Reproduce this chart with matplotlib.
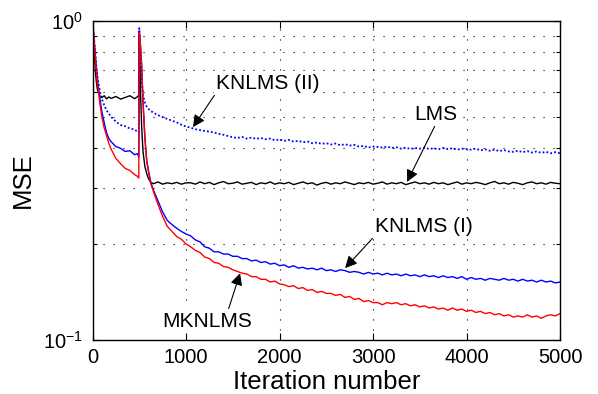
import numpy as np
import matplotlib
matplotlib.use("Agg")
import matplotlib.pyplot as plt
from matplotlib.ticker import NullFormatter

plt.rcParams['font.family'] = ['Liberation Sans', 'DejaVu Sans']
plt.rcParams['mathtext.fontset'] = 'custom'
plt.rcParams['mathtext.rm'] = 'Liberation Sans'

# iterations: dense head (0..1000) + tail every 50 up to 5000
iterHead = [0, 10, 20, 30, 40, 50, 60, 80, 100, 125, 150, 175, 200, 250, 300, 350,
            400, 450, 480, 495, 500, 505, 515, 525, 540, 560, 580, 600, 625, 650,
            700, 750, 800, 850, 900, 950, 1000]
iterTail = list(range(1050, 5001, 50))

mknlmsHead = [1.0, 0.92, 0.84, 0.77, 0.70, 0.65, 0.61, 0.55, 0.50, 0.462, 0.437, 0.413,
              0.396, 0.371, 0.357, 0.345, 0.340, 0.330, 0.326, 0.322,
              0.92, 0.90, 0.82, 0.73, 0.56, 0.43, 0.362, 0.335,
              0.308, 0.293, 0.266, 0.244, 0.227, 0.219, 0.211, 0.207, 0.200]
mknlmsTail = [0.196, 0.191, 0.188, 0.182, 0.180, 0.175, 0.174, 0.170, 0.169, 0.166,
              0.164, 0.162, 0.161, 0.158, 0.158, 0.155, 0.155, 0.152, 0.153, 0.150,
              0.149, 0.147, 0.148, 0.145, 0.146, 0.143, 0.144, 0.141, 0.142, 0.140,
              0.140, 0.138, 0.139, 0.136, 0.137, 0.134, 0.135, 0.132, 0.133, 0.131,
              0.131, 0.129, 0.131, 0.130, 0.131, 0.129, 0.130, 0.128, 0.129, 0.127,
              0.128, 0.126, 0.127, 0.125, 0.126, 0.124, 0.126, 0.124, 0.125, 0.123,
              0.124, 0.122, 0.123, 0.121, 0.122, 0.120, 0.121, 0.119, 0.120, 0.118,
              0.119, 0.118, 0.120, 0.118, 0.119, 0.117, 0.119, 0.120, 0.119, 0.121]

knlms1Head = [1.0, 0.93, 0.85, 0.78, 0.72, 0.67, 0.63, 0.57, 0.52, 0.48, 0.447, 0.428,
              0.418, 0.404, 0.399, 0.390, 0.392, 0.381, 0.384, 0.375,
              0.93, 0.90, 0.82, 0.73, 0.56, 0.432, 0.366, 0.338,
              0.311, 0.296, 0.273, 0.252, 0.237, 0.230, 0.224, 0.219, 0.215]
knlms1Tail = [0.212, 0.206, 0.203, 0.196, 0.194, 0.189, 0.189, 0.186, 0.186, 0.183,
              0.183, 0.180, 0.180, 0.177, 0.178, 0.175, 0.176, 0.173, 0.174, 0.171,
              0.172, 0.169, 0.171, 0.168, 0.169, 0.167, 0.168, 0.166, 0.168, 0.165,
              0.166, 0.164, 0.166, 0.165, 0.163, 0.164, 0.163, 0.161, 0.163, 0.161,
              0.162, 0.160, 0.162, 0.160, 0.161, 0.159, 0.161, 0.159, 0.160, 0.158,
              0.160, 0.158, 0.159, 0.157, 0.159, 0.157, 0.158, 0.156, 0.158, 0.155,
              0.157, 0.155, 0.156, 0.154, 0.156, 0.155, 0.154, 0.156, 0.154, 0.155,
              0.153, 0.155, 0.153, 0.154, 0.152, 0.154, 0.152, 0.153, 0.151, 0.152]

lmsHead = [1.0, 0.88, 0.78, 0.70, 0.65, 0.615, 0.597, 0.582, 0.575, 0.583, 0.570, 0.578,
           0.572, 0.580, 0.569, 0.576, 0.583, 0.571, 0.579, 0.585,
           0.90, 0.78, 0.58, 0.47, 0.39, 0.35, 0.332, 0.320,
           0.312, 0.309, 0.313, 0.308, 0.311, 0.309, 0.312, 0.308, 0.311]
lmsTail = [0.311, 0.308, 0.313, 0.309, 0.312, 0.307, 0.311, 0.314, 0.309, 0.310,
           0.313, 0.308, 0.310, 0.312, 0.307, 0.311, 0.309, 0.313, 0.308, 0.311,
           0.309, 0.312, 0.307, 0.310, 0.313, 0.309, 0.311, 0.306, 0.310, 0.312,
           0.308, 0.311, 0.309, 0.313, 0.310, 0.307, 0.311, 0.309, 0.312, 0.308,
           0.310, 0.313, 0.308, 0.311, 0.309, 0.312, 0.307, 0.310, 0.313, 0.309,
           0.311, 0.308, 0.312, 0.309, 0.311, 0.307, 0.310, 0.313, 0.308, 0.311,
           0.309, 0.312, 0.310, 0.307, 0.311, 0.314, 0.309, 0.311, 0.308, 0.312,
           0.310, 0.307, 0.311, 0.313, 0.309, 0.311, 0.308, 0.312, 0.310, 0.309]

knlms2Head = [1.0, 0.93, 0.86, 0.79, 0.73, 0.68, 0.645, 0.60, 0.57, 0.545, 0.525, 0.512,
              0.500, 0.484, 0.472, 0.468, 0.460, 0.457, 0.450, 0.447,
              0.95, 0.88, 0.74, 0.65, 0.585, 0.555, 0.538, 0.530,
              0.522, 0.516, 0.507, 0.500, 0.493, 0.487, 0.481, 0.473, 0.467]
knlms2Tail = [0.463, 0.458, 0.455, 0.452, 0.450, 0.447, 0.443, 0.440, 0.436, 0.432,
              0.430, 0.433, 0.428, 0.431, 0.427, 0.430, 0.426, 0.428, 0.423, 0.425,
              0.421, 0.424, 0.419, 0.421, 0.417, 0.419, 0.414, 0.416, 0.412, 0.414,
              0.410, 0.413, 0.408, 0.411, 0.407, 0.409, 0.404, 0.406, 0.401, 0.404,
              0.403, 0.401, 0.404, 0.400, 0.402, 0.398, 0.401, 0.397, 0.400, 0.398,
              0.401, 0.397, 0.399, 0.396, 0.400, 0.397, 0.399, 0.395, 0.398, 0.397,
              0.395, 0.398, 0.393, 0.396, 0.392, 0.395, 0.391, 0.394, 0.390, 0.389,
              0.392, 0.388, 0.391, 0.387, 0.390, 0.386, 0.389, 0.385, 0.388, 0.385]

xTicks = [0, 1000, 2000, 3000, 4000, 5000]

# label text, arrow target (iter, mse), text centre (iter, mse), arrow root on text box
labels = [
    ("KNLMS (II)", (1075, 0.465), (1877, 0.639), (0.0, 0.0)),
    ("LMS", (3364, 0.313), (3674, 0.511), (0.5, 0.0)),
    ("KNLMS (I)", (2701, 0.168), (3545, 0.2277), (0.0, 0.0)),
    ("MKNLMS", (1578, 0.162), (1225, 0.1147), (0.73, 1.0)),
]


def makePlot():
    iters = np.array(iterHead + iterTail)
    fig = plt.figure(figsize=(5.98, 3.94), dpi=100)
    ax = fig.add_axes([0.1547, 0.137, 0.7818, 0.8097])

    ax.plot(iters, knlms2Head + knlms2Tail, color='#0000ff', lw=1.3, ls=(0, (1, 1.2)))
    ax.plot(iters, lmsHead + lmsTail, color='k', lw=1.0)
    ax.plot(iters, knlms1Head + knlms1Tail, color='#0000ff', lw=1.0)
    ax.plot(iters, mknlmsHead + mknlmsTail, color='#ff0000', lw=1.0)

    ax.set_yscale('log')
    ax.set_xlim(0, 5000)
    ax.set_ylim(0.1, 1.0)
    ax.set_xticks(xTicks)
    ax.yaxis.set_minor_formatter(NullFormatter())

    gridStyle = dict(color='k', lw=0.8, ls=(0, (1, 8)))
    ax.grid(True, which='major', **gridStyle)
    ax.grid(True, which='minor', axis='y', **gridStyle)
    ax.set_axisbelow(True)

    ax.tick_params(which='both', direction='in', top=True, right=True, width=0.8)
    ax.tick_params(which='major', length=5, labelsize=14.5)
    ax.tick_params(which='minor', length=3)
    ax.tick_params(axis='x', pad=6)
    ax.tick_params(axis='y', pad=7)
    for sp in ax.spines.values():
        sp.set_linewidth(1.0)

    ax.set_xlabel('Iteration number', fontsize=18.5, labelpad=2)
    ax.set_ylabel('MSE', fontsize=18.5, labelpad=6)

    for text, target, pos, rel in labels:
        ax.annotate(text, xy=target, xytext=pos, ha='center', va='center', fontsize=15,
                    bbox=dict(fc='white', ec='none', pad=2),
                    arrowprops=dict(arrowstyle='-|>', color='k', lw=0.8, mutation_scale=18,
                                    shrinkA=0, shrinkB=0, relpos=rel),
                    zorder=5)

    fig.savefig("out.png", dpi=100)
    plt.close(fig)


if __name__ == "__main__":
    makePlot()
